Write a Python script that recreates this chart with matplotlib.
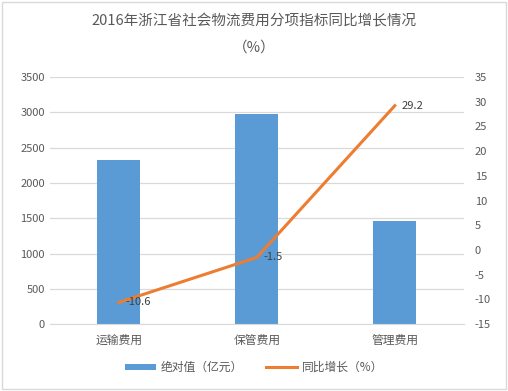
import matplotlib.pyplot as plt
from matplotlib.patches import Rectangle

plt.rcParams["font.family"] = ["Noto Sans CJK SC", "DejaVu Sans"]
plt.rcParams["axes.unicode_minus"] = False

categories = ["运输费用", "保管费用", "管理费用"]
absolute = [2325, 2975, 1460]
growth = [-10.6, -1.5, 29.2]
growth_labels = ["-10.6", "-1.5", "29.2"]

BAR = "#5B9BD5"
LINE = "#ED7D31"
GRID = "#D9D9D9"
TXT = "#595959"

fig = plt.figure(figsize=(5.08, 3.91), dpi=100, facecolor="white")
fig.patches.append(Rectangle((0.004, 0.004), 0.992, 0.992, transform=fig.transFigure,
                             fill=False, edgecolor="#D9D9D9", linewidth=1))

ax = fig.add_axes([0.098, 0.171, 0.815, 0.632])
x = list(range(len(categories)))
ax.bar(x, absolute, width=0.31, color=BAR, zorder=2, label="绝对值（亿元）")
ax.set_xlim(-0.5, 2.5)
ax.set_ylim(0, 3500)
ax.set_yticks(range(0, 3501, 500))
ax.yaxis.grid(True, color=GRID, linewidth=0.9)
ax.set_axisbelow(True)
for s in ["top", "right", "left"]:
    ax.spines[s].set_visible(False)
ax.spines["bottom"].set_color(GRID)
ax.tick_params(axis="both", length=0, colors=TXT, labelsize=8)
ax.set_xticks(x)
ax.set_xticklabels(categories, fontsize=8.5)
ax.tick_params(axis="x", pad=7)

ax2 = ax.twinx()
ax2.plot(x, growth, color=LINE, linewidth=2.2, zorder=3, label="同比增长（%）")
ax2.set_ylim(-15, 35)
ax2.set_yticks(range(-15, 36, 5))
for s in ax2.spines.values():
    s.set_visible(False)
ax2.tick_params(axis="y", length=0, colors=TXT, labelsize=8, pad=8)
for xi, v, lab in zip(x, growth, growth_labels):
    ax2.text(xi + 0.05, v, lab, fontsize=8, color="#404040", ha="left", va="center", zorder=4)

fig.text(0.5, 0.944, "2016年浙江省社会物流费用分项指标同比增长情况", ha="center", va="center",
         fontsize=10.5, color=TXT)
fig.text(0.5, 0.877, "（%）", ha="center", va="center", fontsize=10.5, color=TXT)

h1, l1 = ax.get_legend_handles_labels()
h2, l2 = ax2.get_legend_handles_labels()
fig.legend(h1 + h2, l1 + l2, loc="center", bbox_to_anchor=(0.5, 0.06), ncol=2,
           frameon=False, fontsize=8.5, labelcolor=TXT, handlelength=2.6, handletextpad=0.4,
           columnspacing=2.0, handleheight=0.4)

fig.savefig("out.png", dpi=100, facecolor="white")
